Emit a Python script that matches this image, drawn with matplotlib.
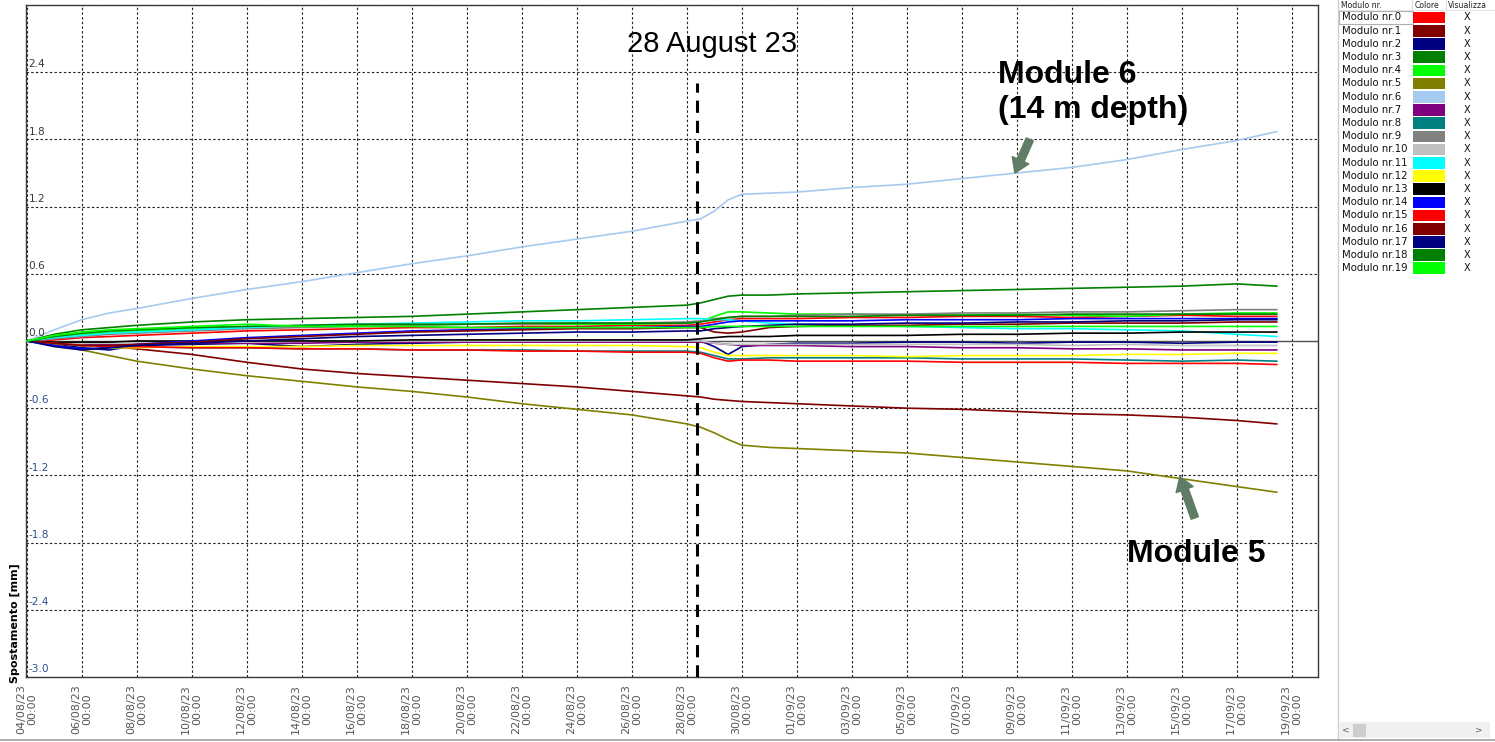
import matplotlib
matplotlib.use("Agg")
import matplotlib.pyplot as plt
from matplotlib.patches import Rectangle, FancyArrowPatch
from matplotlib.lines import Line2D
import matplotlib.transforms as mtransforms
import datetime as dt

# ---------------- data ----------------
START = dt.datetime(2023, 8, 4)
DAYS = [0, 1, 2, 3, 4, 6, 8, 10, 12, 14, 16, 18, 20, 22, 24, 24.5, 25, 25.5, 26,
        27, 28, 30, 32, 34, 36, 38, 40, 42, 44, 45.45]

MODULE_NAMES = ["Modulo nr.%d" % i for i in range(20)]
MODULE_COLORS = ["#ff0000", "#800000", "#000080", "#008000", "#00ff00", "#808000",
                 "#a6caf0", "#800080", "#008080", "#808080", "#c0c0c0", "#00ffff",
                 "#ffff00", "#000000", "#0000ff", "#ff0000", "#800000", "#000080",
                 "#008000", "#00ff00"]

M0 = [0, 0.01, 0.03, 0.04, 0.05, 0.07, 0.09, 0.10, 0.11, 0.12, 0.12, 0.13, 0.13, 0.14, 0.14,
      0.15, 0.17, 0.19, 0.20, 0.20, 0.20, 0.21, 0.21, 0.22, 0.22, 0.21, 0.22, 0.23, 0.22, 0.22]
M1 = [0, -0.02, -0.04, -0.05, -0.07, -0.12, -0.19, -0.25, -0.29, -0.32, -0.35, -0.38, -0.41,
      -0.45, -0.49, -0.50, -0.52, -0.53, -0.54, -0.55, -0.56, -0.58, -0.60, -0.61, -0.63,
      -0.65, -0.66, -0.68, -0.71, -0.74]
M2 = [0, -0.03, -0.06, -0.08, -0.04, -0.03, -0.02, -0.05, -0.03, -0.02, -0.01, 0.0, 0.0, 0.0,
      0.0, 0.0, -0.05, -0.12, -0.05, -0.03, -0.02, -0.02, -0.01, -0.01, -0.02, -0.01, -0.01,
      -0.02, -0.01, -0.01]
M3 = [0, 0.06, 0.10, 0.12, 0.14, 0.17, 0.19, 0.20, 0.21, 0.22, 0.24, 0.26, 0.28, 0.30, 0.32,
      0.34, 0.37, 0.40, 0.41, 0.41, 0.42, 0.43, 0.44, 0.45, 0.46, 0.47, 0.48, 0.49, 0.51, 0.49]
M4 = [0, 0.03, 0.06, 0.08, 0.09, 0.11, 0.13, 0.13, 0.14, 0.14, 0.15, 0.15, 0.15, 0.15, 0.16,
      0.17, 0.22, 0.26, 0.26, 0.25, 0.24, 0.24, 0.23, 0.23, 0.24, 0.23, 0.22, 0.24, 0.25, 0.25]
M5 = [0, -0.03, -0.08, -0.13, -0.18, -0.25, -0.31, -0.36, -0.41, -0.45, -0.50, -0.56, -0.61,
      -0.66, -0.74, -0.77, -0.82, -0.88, -0.93, -0.95, -0.96, -0.98, -1.00, -1.04, -1.08,
      -1.12, -1.16, -1.23, -1.30, -1.35]
M6 = [0, 0.10, 0.19, 0.25, 0.29, 0.38, 0.46, 0.53, 0.61, 0.69, 0.76, 0.84, 0.91, 0.98, 1.07,
      1.09, 1.16, 1.26, 1.31, 1.32, 1.33, 1.37, 1.40, 1.45, 1.50, 1.55, 1.62, 1.71, 1.79, 1.87]
M7 = [0, -0.02, -0.03, -0.03, -0.03, -0.02, -0.02, -0.02, -0.01, -0.01, -0.01, -0.01, -0.01,
      -0.01, -0.01, -0.01, -0.02, -0.03, -0.04, -0.04, -0.04, -0.05, -0.05, -0.06, -0.06,
      -0.07, -0.07, -0.08, -0.08, -0.08]
M8 = [0, -0.02, -0.04, -0.05, -0.05, -0.06, -0.06, -0.07, -0.07, -0.08, -0.08, -0.08, -0.09,
      -0.09, -0.09, -0.10, -0.13, -0.16, -0.16, -0.15, -0.15, -0.15, -0.15, -0.16, -0.16,
      -0.16, -0.17, -0.18, -0.17, -0.18]
M9 = [0, 0.02, 0.04, 0.06, 0.07, 0.09, 0.11, 0.12, 0.13, 0.14, 0.15, 0.15, 0.16, 0.16, 0.17,
      0.18, 0.20, 0.21, 0.22, 0.22, 0.23, 0.24, 0.24, 0.25, 0.25, 0.26, 0.26, 0.27, 0.28, 0.28]
M10 = [0, -0.01, -0.02, -0.02, -0.02, -0.01, -0.01, 0.0, 0.0, 0.0, 0.0, 0.0, 0.0, 0.0, 0.0,
       0.0, -0.02, -0.03, -0.03, -0.03, -0.03, -0.03, -0.03, -0.03, -0.03, -0.04, -0.03,
       -0.04, -0.04, -0.04]
M11 = [0, 0.03, 0.05, 0.07, 0.08, 0.10, 0.12, 0.14, 0.15, 0.16, 0.17, 0.18, 0.18, 0.19, 0.20,
       0.20, 0.19, 0.19, 0.18, 0.16, 0.15, 0.14, 0.13, 0.12, 0.11, 0.11, 0.10, 0.09, 0.06, 0.04]
M12 = [0, -0.02, -0.04, -0.06, -0.06, -0.05, -0.05, -0.05, -0.04, -0.04, -0.04, -0.04, -0.04,
       -0.04, -0.05, -0.06, -0.10, -0.13, -0.13, -0.13, -0.13, -0.13, -0.14, -0.13, -0.13,
       -0.13, -0.12, -0.12, -0.11, -0.11]
M13 = [0, -0.01, -0.01, -0.01, 0.0, 0.0, 0.0, 0.0, 0.0, 0.01, 0.01, 0.01, 0.01, 0.01, 0.01,
       0.02, 0.03, 0.04, 0.04, 0.04, 0.05, 0.05, 0.05, 0.06, 0.06, 0.07, 0.07, 0.08, 0.08, 0.08]
M14 = [0, -0.04, -0.07, -0.06, -0.03, 0.0, 0.03, 0.05, 0.07, 0.09, 0.10, 0.11, 0.12, 0.12,
       0.13, 0.13, 0.15, 0.17, 0.18, 0.18, 0.18, 0.18, 0.19, 0.19, 0.19, 0.20, 0.20, 0.20,
       0.20, 0.20]
M15 = [0, -0.02, -0.04, -0.05, -0.05, -0.06, -0.06, -0.07, -0.07, -0.08, -0.08, -0.09, -0.09,
       -0.10, -0.10, -0.11, -0.15, -0.18, -0.17, -0.17, -0.18, -0.18, -0.18, -0.19, -0.19,
       -0.19, -0.20, -0.20, -0.20, -0.21]
M16 = [0, -0.02, -0.04, -0.04, -0.03, -0.01, 0.02, 0.04, 0.06, 0.08, 0.09, 0.10, 0.11, 0.11,
       0.12, 0.12, 0.08, 0.07, 0.08, 0.12, 0.13, 0.14, 0.14, 0.15, 0.15, 0.16, 0.16, 0.16,
       0.17, 0.17]
M17 = [0, -0.05, -0.08, -0.06, -0.04, -0.02, 0.0, 0.02, 0.04, 0.05, 0.06, 0.07, 0.08, 0.08,
       0.09, 0.09, 0.11, 0.12, 0.13, 0.14, 0.15, 0.15, 0.16, 0.16, 0.17, 0.17, 0.18, 0.18,
       0.19, 0.19]
M18 = [0, 0.04, 0.07, 0.09, 0.10, 0.12, 0.13, 0.14, 0.15, 0.15, 0.15, 0.16, 0.16, 0.16, 0.16,
       0.17, 0.19, 0.21, 0.22, 0.22, 0.22, 0.22, 0.23, 0.23, 0.23, 0.24, 0.24, 0.24, 0.24, 0.24]
M19 = [0, 0.05, 0.08, 0.10, 0.11, 0.13, 0.15, 0.13, 0.13, 0.13, 0.12, 0.12, 0.12, 0.12, 0.12,
       0.12, 0.13, 0.13, 0.13, 0.13, 0.13, 0.13, 0.13, 0.13, 0.13, 0.13, 0.13, 0.13, 0.13, 0.13]
SERIES = [M0, M1, M2, M3, M4, M5, M6, M7, M8, M9, M10, M11, M12, M13, M14, M15, M16, M17,
          M18, M19]

TICK_DAYS = list(range(0, 47, 2))
TICK_LABELS = [(START + dt.timedelta(days=d)).strftime("%d/%m/%y\n%H:%M") for d in TICK_DAYS]
Y_TICKS = [-3.0, -2.4, -1.8, -1.2, -0.6, 0.0, 0.6, 1.2, 1.8, 2.4]
EVENT_DAY = 24.36
EVENT_LABEL = "28 August 23"
Y_LABEL = "Spostamento [mm]"

# ---------------- figure ----------------
W, H = 1495, 742
fig = plt.figure(figsize=(W / 100, H / 100), dpi=100)
fig.patch.set_facecolor("white")


def fp(x, y):
    return (x / W, 1 - y / H)


ax = fig.add_axes([26 / W, 1 - 677 / H, (1318 - 26) / W, (677 - 5) / H])
ax.set_xlim(-0.03, 46.95)
ax.set_ylim(-3.0, 3.0)

grid_kw = dict(color="#222222", lw=0.8, ls=(0, (2.2, 2.0)), zorder=1)
for d in TICK_DAYS:
    ax.axvline(d, **grid_kw)
for v in Y_TICKS + [3.0]:
    if v != 0.0:
        ax.axhline(v, **grid_kw)
ax.axhline(0.0, color="#505050", lw=1.0, zorder=1)

for s, c in zip(SERIES, MODULE_COLORS):
    ax.plot(DAYS, s, color=c, lw=1.2, zorder=3, solid_joinstyle="round")

# event line
ax.plot([EVENT_DAY, EVENT_DAY], [-3.0, 2.30], color="black", lw=2.2,
        ls=(0, (4, 2.6)), zorder=5)

ax.set_xticks(TICK_DAYS)
ax.set_xticklabels(TICK_LABELS, rotation=90, fontsize=8, color="#555555",
                   family="DejaVu Sans")
offset = mtransforms.ScaledTranslation(5 / 100, 0, fig.dpi_scale_trans)
for lab in ax.get_xticklabels():
    lab.set_multialignment("center")
    lab.set_transform(lab.get_transform() + offset)
ax.tick_params(axis="x", length=0, pad=5)
ax.set_yticks([])

for sp in ax.spines.values():
    sp.set_color("#3a3a3a")
    sp.set_linewidth(1.0)

ytrans = mtransforms.blended_transform_factory(ax.transAxes, ax.transData)
for v in Y_TICKS:
    col = "#2e4f8f" if v < 0 else "#3a3a3a"
    ax.text(0.002, v + 0.025, "%.1f" % v, transform=ytrans, fontsize=7.6,
            color=col, ha="left", va="bottom", family="DejaVu Sans", zorder=6)

fig.text(*fp(15, 623), Y_LABEL, rotation=90, fontsize=8, fontweight="bold",
         ha="center", va="center", family="DejaVu Sans")

# annotations
ann_font = ["Liberation Sans", "DejaVu Sans"]
ax.text(24.9, 2.578, EVENT_LABEL, fontsize=21, ha="center", va="baseline",
        family=ann_font, zorder=7)
ax.text(35.3, 2.302, "Module 6", fontsize=23, fontweight="bold", ha="left",
        va="baseline", family=ann_font, zorder=7)
ax.text(35.3, 1.99, "(14 m depth)", fontsize=23, fontweight="bold", ha="left",
        va="baseline", family=ann_font, zorder=7)
ax.text(40.0, -1.973, "Module 5", fontsize=23, fontweight="bold", ha="left",
        va="baseline", family=ann_font, zorder=7)

arrow_style = "simple,head_length=10,head_width=13,tail_width=5.5"
arrow_col = "#5e7d64"
ax.add_patch(FancyArrowPatch((36.47, 1.80), (35.93, 1.50), arrowstyle=arrow_style,
                             mutation_scale=1, color=arrow_col, shrinkA=0, shrinkB=0,
                             zorder=8))
ax.add_patch(FancyArrowPatch((42.47, -1.58), (41.93, -1.21), arrowstyle=arrow_style,
                             mutation_scale=1, color=arrow_col, shrinkA=0, shrinkB=0,
                             zorder=8))

# ---------------- legend panel ----------------
fig.add_artist(Line2D([1338 / W, 1338 / W], [0.003, 1], transform=fig.transFigure,
                      color="#cfcfcf", lw=1))
hdr_kw = dict(fontsize=5.6, va="center", ha="left", family="DejaVu Sans", color="#222222")
fig.text(*fp(1341, 5), "Modulo nr.", **hdr_kw)
fig.text(*fp(1415, 5), "Colore", **hdr_kw)
fig.text(*fp(1448, 5), "Visualizza", **hdr_kw)
for xl in (1412, 1446):
    fig.add_artist(Line2D([xl / W, xl / W], [1 - 10 / H, 1], transform=fig.transFigure,
                          color="#dddddd", lw=0.8))
fig.add_artist(Line2D([1339 / W, 1], [1 - 10 / H, 1 - 10 / H], transform=fig.transFigure,
                      color="#e4e4e4", lw=0.8))
fig.add_artist(Rectangle(fp(1339, 24), 74 / W, 13 / H, transform=fig.transFigure,
                         fill=False, edgecolor="#b0b0b0", lw=0.8))
for i, (name, col) in enumerate(zip(MODULE_NAMES, MODULE_COLORS)):
    yc = 17.5 + 13.2 * i
    fig.text(*fp(1342, yc), name, fontsize=7.3, va="center", ha="left",
             family="DejaVu Sans", color="#111111")
    fig.add_artist(Rectangle(fp(1413, yc + 5.8), 32 / W, 11.6 / H,
                             transform=fig.transFigure, facecolor=col,
                             edgecolor="none"))
    fig.text(*fp(1467, yc), "X", fontsize=7, va="center", ha="center",
             family="DejaVu Sans", color="#111111")

# scrollbar
fig.add_artist(Rectangle(fp(1340, 738), 150 / W, 16 / H, transform=fig.transFigure,
                         facecolor="#f0f0f0", edgecolor="none"))
fig.add_artist(Rectangle(fp(1353, 737), 13 / W, 13 / H, transform=fig.transFigure,
                         facecolor="#cdcdcd", edgecolor="none"))
fig.text(*fp(1346, 730), "<", fontsize=6.5, va="center", ha="center", color="#606060")
fig.text(*fp(1479, 730), ">", fontsize=6.5, va="center", ha="center", color="#606060")
fig.add_artist(Line2D([0, 1], [1 - 740 / H, 1 - 740 / H], transform=fig.transFigure,
                      color="#a0a0a0", lw=1.2))

fig.savefig("out.png", dpi=100, facecolor="white")
